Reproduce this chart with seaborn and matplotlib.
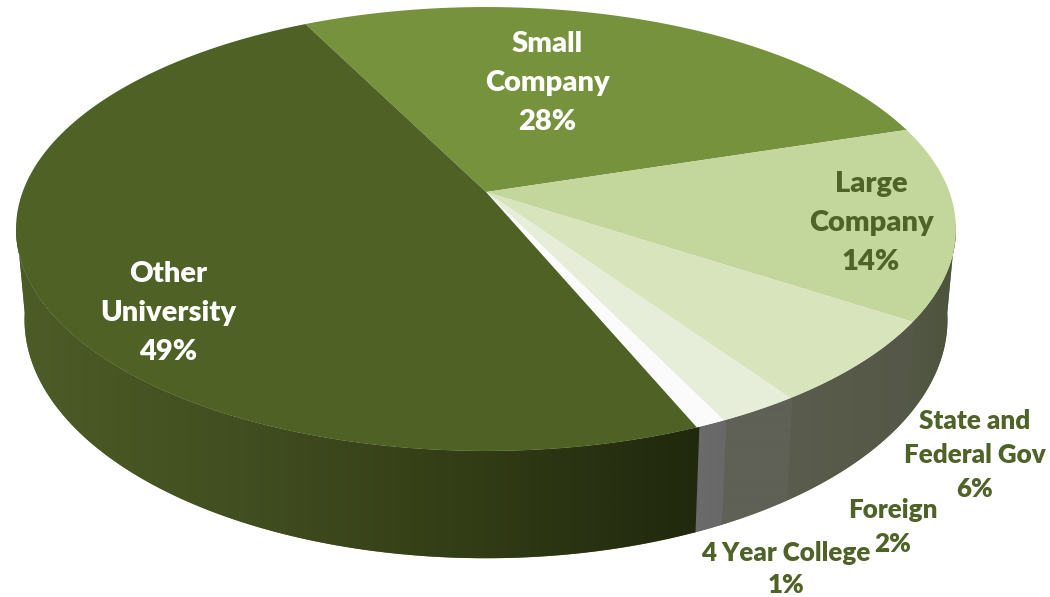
import numpy as np
import seaborn as sns
import matplotlib.pyplot as plt
from matplotlib.patches import Polygon

# share of each group, clockwise starting from the Small Company slice
names = ['Small\nCompany', 'Large\nCompany', 'State and\nFederal Gov', 'Foreign', '4 Year College', 'Other\nUniversity']
values = [27.5, 14.1, 6.2, 2.4, 0.9, 48.9]
top_colors = ['#76923c', '#c3d69b', '#d8e4bc', '#e6eed9', '#fbfbfb', '#4f6125']
# wall colours running left to right across each slice
wall_colors = [['#5e7530', '#5e7530'],
               ['#535845', '#4f5540', '#4d533c'],
               ['#5a5c4e', '#575a48', '#55584a'],
               ['#5f6056', '#5f6056'],
               ['#6b6b6b', '#686868'],
               ['#4d5c27', '#414e20', '#323c15', '#20280e']]
text_colors = ['white', '#4f6228', '#4f6228', '#4f6228', '#4f6228', 'white']

label_x = [547, 871, 975, 893, 786, 168]
label_y = [83, 223, 455, 527, 569, 313]
label_size = [21, 21, 18.7, 18.7, 18.7, 21]
label_gap = [1.6, 1.6, 1.5, 1.5, 1.4, 1.6]

start_angle = 116.6

# fake perspective for the disc, top face and bottom face
k = 0.1667
top_face = dict(cx=486, cy=192, a=463.4, b=215.8)
bottom_face = dict(cx=486, cy=279.8, a=455, b=232)


def project(theta, face):
    u = np.cos(np.radians(theta))
    v = np.sin(np.radians(theta))
    w = 1 + k * v
    return face['cx'] + face['a'] * u / w, face['cy'] - face['b'] * v / w


sns.set_theme(style='white')
plt.rcParams['font.family'] = ['Lato', 'DejaVu Sans']

fig = plt.figure(figsize=(10.5, 5.97), dpi=100)
ax = fig.add_axes([0, 0, 1, 1])

edges = start_angle - np.cumsum([0] + values) * 3.6

# side wall first, the top face gets painted over it
# visible part of the wall runs from 188 to 352 degrees
for i in range(len(values)):
    hi = edges[i] % 360 if edges[i] % 360 > 180 else 352
    lo = edges[i + 1] % 360
    if lo < 188 or lo > hi:
        lo = 188
    if hi <= 188:
        continue
    th = np.linspace(lo, min(hi + 0.3, 352), 300)
    tx, ty = project(th, top_face)
    bx, by = project(th, bottom_face)
    outline = np.c_[np.r_[tx, bx[::-1]], np.r_[ty, by[::-1]]]
    left = tx.min()
    right = tx.max()
    pal = sns.blend_palette(wall_colors[i], 256)
    shade = np.array(pal)[np.clip((np.arange(1050) - left) / max(right - left, 1) * 255, 0, 255).astype(int)]
    im = ax.imshow(shade[np.newaxis, :, :], extent=(0, 1050, 597, 0), aspect='auto', interpolation='bilinear')
    im.set_clip_path(Polygon(outline, closed=True, transform=ax.transData))

# top face
for i in range(len(values)):
    th = np.linspace(edges[i], edges[i + 1], 200)
    xs, ys = project(th, top_face)
    cx, cy = top_face['cx'], top_face['cy']
    ax.fill(np.r_[cx, xs], np.r_[cy, ys], color=top_colors[i], lw=0)

for i, name in enumerate(names):
    ax.text(label_x[i], label_y[i], f'{name}\n{values[i]:.0f}%', color=text_colors[i],
            fontsize=label_size[i], fontweight='heavy', ha='center', va='center',
            linespacing=label_gap[i])

ax.set_xlim(0, 1050)
ax.set_ylim(597, 0)
ax.axis('off')

fig.savefig('out.png', dpi=100)
